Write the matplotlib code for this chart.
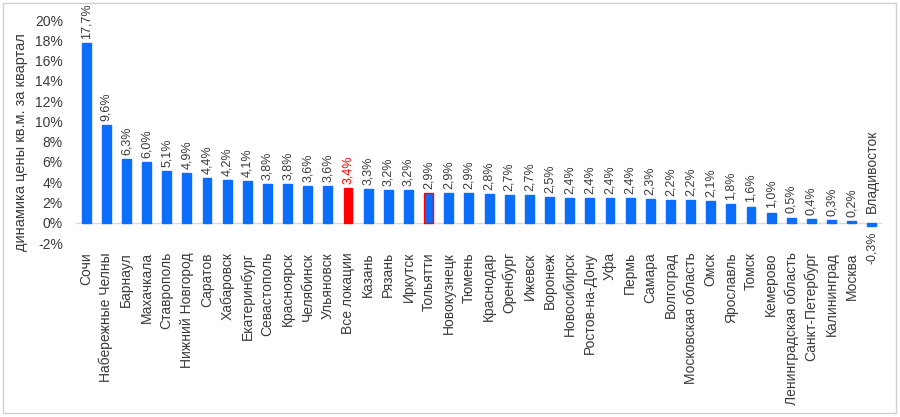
import matplotlib
matplotlib.use("Agg")
import matplotlib.pyplot as plt
from matplotlib.patches import Rectangle

plt.rcParams['font.family'] = ['Liberation Sans', 'DejaVu Sans']

cities = ["Сочи", "Набережные Челны", "Барнаул", "Махачкала", "Ставрополь",
          "Нижний Новгород", "Саратов", "Хабаровск", "Екатеринбург", "Севастополь",
          "Красноярск", "Челябинск", "Ульяновск", "Все локации", "Казань", "Рязань",
          "Иркутск", "Тольятти", "Новокузнецк", "Тюмень", "Краснодар", "Оренбург",
          "Ижевск", "Воронеж", "Новосибирск", "Ростов-на-Дону", "Уфа", "Пермь",
          "Самара", "Волгоград", "Московская область", "Омск", "Ярославль", "Томск",
          "Кемерово", "Ленинградская область", "Санкт-Петербург", "Калининград",
          "Москва", "Владивосток"]
values = [17.7, 9.6, 6.3, 6.0, 5.1, 4.9, 4.4, 4.2, 4.1, 3.8, 3.8, 3.6, 3.6, 3.4,
          3.3, 3.2, 3.2, 2.9, 2.9, 2.9, 2.8, 2.7, 2.7, 2.5, 2.4, 2.4, 2.4, 2.4,
          2.3, 2.2, 2.2, 2.1, 1.8, 1.6, 1.0, 0.5, 0.4, 0.3, 0.2, -0.3]
yticks = list(range(-2, 21, 2))

BLUE = "#0A6EFA"
RED = "#FF0000"
TXT = "#3A3A3A"

fig = plt.figure(figsize=(9, 4.17), dpi=100)
fig.patches.append(Rectangle((3/900, 1-413/417), 893/900, 410/417, transform=fig.transFigure,
                             fill=False, edgecolor="#D0D0D0", linewidth=1.0))
ax = fig.add_axes([76/900, 1-243/417, 806/900, 223/417])

x = list(range(len(cities)))
face = [RED if c == "Все локации" else BLUE for c in cities]
edge = [RED if c in ("Все локации", "Тольятти") else BLUE for c in cities]
ax.bar(x, values, width=0.44, color=face, edgecolor=edge, linewidth=1.0, zorder=2)

ax.set_xlim(-0.5, len(cities) - 0.5)
ax.set_ylim(-2, 20)
ax.set_yticks(yticks)
ax.set_yticklabels([f"{t}%" for t in yticks], fontsize=10, color=TXT)
ax.tick_params(axis='y', length=0, pad=9.5)
ax.tick_params(axis='x', length=0, pad=6.5)
for s in ax.spines.values():
    s.set_visible(False)
ax.axhline(0, color="#D9D9D9", linewidth=1.0, zorder=1)

ax.set_xticks(x)
labels = [c if v >= 0 else "" for c, v in zip(cities, values)]
ax.set_xticklabels(labels, rotation=90, fontsize=10, color=TXT, va='top', ha='center')

for xi, v, c in zip(x, values, cities):
    lab = f"{v:.1f}%".replace(".", ",")
    col = RED if c == "Все локации" else TXT
    if v >= 0:
        ax.annotate(lab, (xi, v), xytext=(0, 3), textcoords="offset points",
                    rotation=90, ha='center', va='bottom', fontsize=9, color=col)
    else:
        ax.annotate(lab, (xi, 0), xytext=(0, -6.5), textcoords="offset points",
                    rotation=90, ha='center', va='top', fontsize=9, color=col)
        ax.annotate(c, (xi, 0), xytext=(0, 7), textcoords="offset points",
                    rotation=90, ha='center', va='bottom', fontsize=10, color=TXT)

fig.text(21/900, 1-142/417, "динамика цены кв.м. за квартал", rotation=90,
         ha='center', va='center', fontsize=10.5, color=TXT)

fig.savefig("out.png", dpi=100)
